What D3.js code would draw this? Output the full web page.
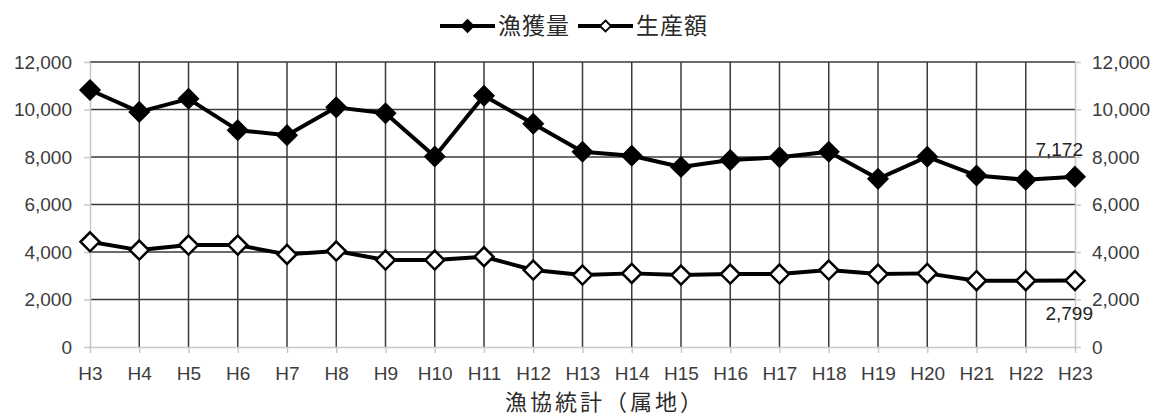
<!DOCTYPE html>
<html>
<head>
<meta charset="utf-8">
<script src="https://cdn.jsdelivr.net/npm/d3@7"></script>
<style>
  html, body { margin: 0; padding: 0; background: #fff; }
  svg { display: block; }
</style>
</head>
<body>
<svg id="chart" width="1158" height="417"></svg>
<script>
const categories = ["H3","H4","H5","H6","H7","H8","H9","H10","H11","H12","H13","H14","H15","H16","H17","H18","H19","H20","H21","H22","H23"];
const catchValues = [10820, 9900, 10450, 9130, 8920, 10090, 9840, 8020, 10580, 9400, 8220, 8050, 7580, 7870, 7990, 8220, 7080, 8010, 7220, 7040, 7172];
const productionValues = [4430, 4080, 4290, 4290, 3900, 4040, 3660, 3660, 3800, 3240, 3030, 3100, 3030, 3070, 3070, 3240, 3070, 3100, 2790, 2790, 2799];
const yTicks = [0, 2000, 4000, 6000, 8000, 10000, 12000];
const seriesNames = ["漁獲量", "生産額"];
const axisTitle = "漁協統計（属地）";
const lastLabels = ["7,172", "2,799"];

(function () {
const svg = d3.select("#chart");
const pL = 90, pR = 1075, pT = 62, pB = 347;
const x = d3.scalePoint().domain(categories).range([pL, pR]);
const y = d3.scaleLinear().domain([0, 12000]).range([pB, pT]);

const numFont = "'Liberation Sans', Arial, sans-serif";
const cjkFont = "'Noto Sans CJK JP', sans-serif";

// horizontal gridlines (dark), except 0
svg.append("g").selectAll("line").data(yTicks.filter(d => d > 0)).join("line")
  .attr("x1", pL).attr("x2", pR)
  .attr("y1", d => y(d)).attr("y2", d => y(d))
  .attr("stroke", "#3a3a3a").attr("stroke-width", 1.5);

// vertical gridlines (dark), interior categories
svg.append("g").selectAll("line").data(categories.slice(1, -1)).join("line")
  .attr("x1", d => x(d)).attr("x2", d => x(d))
  .attr("y1", pT).attr("y2", pB)
  .attr("stroke", "#3a3a3a").attr("stroke-width", 1.5);

function styleAxis(g) {
  g.select(".domain").attr("stroke", "#c8c8c8").attr("stroke-width", 1.5);
  g.selectAll(".tick line").attr("stroke", "#c8c8c8").attr("stroke-width", 1.5);
  g.selectAll(".tick text").attr("fill", "#3c3c3c").style("font-family", numFont).style("font-size", "19px");
}

// left axis
svg.append("g").attr("transform", `translate(${pL},0)`)
  .call(d3.axisLeft(y).tickValues(yTicks).tickFormat(d3.format(",")).tickSize(6).tickPadding(12).tickSizeOuter(0))
  .call(styleAxis);

// right axis
svg.append("g").attr("transform", `translate(${pR},0)`)
  .call(d3.axisRight(y).tickValues(yTicks).tickFormat(d3.format(",")).tickSize(6).tickPadding(11).tickSizeOuter(0))
  .call(styleAxis);

// bottom axis
svg.append("g").attr("transform", `translate(0,${pB})`)
  .call(d3.axisBottom(x).tickSize(6).tickPadding(14).tickSizeOuter(0))
  .call(styleAxis);

const line = d3.line().x((d, i) => x(categories[i])).y(d => y(d));

function diamondPath(size) {
  return `M0,${-size}L${size},0L0,${size}L${-size},0Z`;
}

// production series (white diamonds)
svg.append("path").datum(productionValues)
  .attr("d", line).attr("fill", "none").attr("stroke", "#000").attr("stroke-width", 4)
  .attr("stroke-linejoin", "round");
svg.append("g").selectAll("path").data(productionValues).join("path")
  .attr("transform", (d, i) => `translate(${x(categories[i])},${y(d)})`)
  .attr("d", diamondPath(9.5))
  .attr("fill", "#fff").attr("stroke", "#000").attr("stroke-width", 2.5);

// catch series (black diamonds)
svg.append("path").datum(catchValues)
  .attr("d", line).attr("fill", "none").attr("stroke", "#000").attr("stroke-width", 4)
  .attr("stroke-linejoin", "round");
svg.append("g").selectAll("path").data(catchValues).join("path")
  .attr("transform", (d, i) => `translate(${x(categories[i])},${y(d)})`)
  .attr("d", diamondPath(10))
  .attr("fill", "#000").attr("stroke", "#000").attr("stroke-width", 1.5);

// last value labels
const lastCat = categories[categories.length - 1];
svg.append("text").attr("x", x(lastCat) + 8).attr("y", y(catchValues[catchValues.length - 1]) - 21)
  .attr("text-anchor", "end").style("font-family", numFont).style("font-size", "19px").attr("fill", "#222")
  .text(lastLabels[0]);
svg.append("text").attr("x", x(lastCat) + 18).attr("y", y(productionValues[productionValues.length - 1]) + 39)
  .attr("text-anchor", "end").style("font-family", numFont).style("font-size", "19px").attr("fill", "#222")
  .text(lastLabels[1]);

// legend
const legendY = 26;
const legendItems = [
  {name: seriesNames[0], x0: 440, fill: "#000", size: 6},
  {name: seriesNames[1], x0: 578, fill: "#fff", size: 5.5}
];
const lg = svg.append("g");
legendItems.forEach(it => {
  lg.append("line").attr("x1", it.x0).attr("x2", it.x0 + 55).attr("y1", legendY).attr("y2", legendY)
    .attr("stroke", "#000").attr("stroke-width", 4);
  lg.append("path").attr("transform", `translate(${it.x0 + 27.5},${legendY})`)
    .attr("d", diamondPath(it.size)).attr("fill", it.fill).attr("stroke", "#000").attr("stroke-width", 1.8);
  lg.append("text").attr("x", it.x0 + 58).attr("y", legendY).attr("dy", "0.36em")
    .style("font-family", cjkFont).style("font-size", "23px").style("letter-spacing", "1px")
    .attr("fill", "#2a2a2a").text(it.name);
});

// axis title
svg.append("text").attr("x", 605).attr("y", 402).attr("dy", "0.36em").attr("text-anchor", "middle")
  .style("font-family", cjkFont).style("font-size", "22px").style("letter-spacing", "3px")
  .attr("fill", "#2a2a2a").text(axisTitle);
})();
</script>
</body>
</html>
